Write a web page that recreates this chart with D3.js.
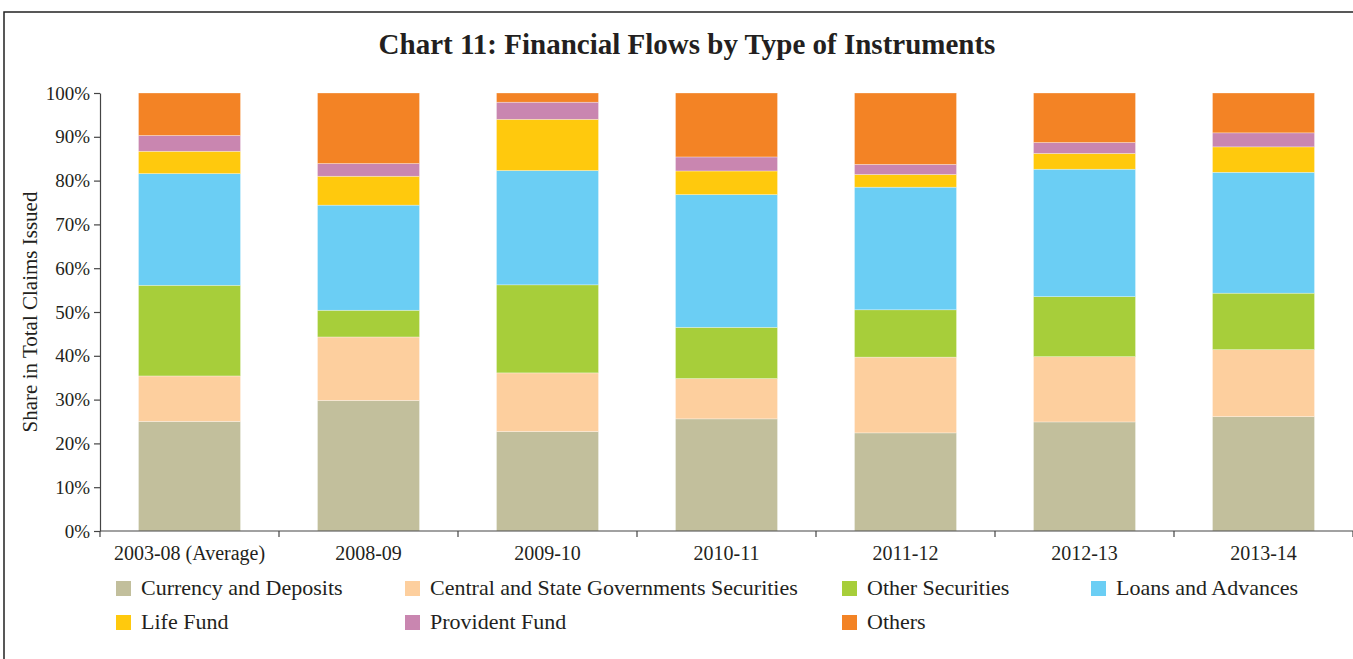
<!DOCTYPE html>
<html>
<head>
<meta charset="utf-8">
<script src="https://cdn.jsdelivr.net/npm/d3@7"></script>
<style>
  body { margin: 0; background: #fff; }
  text { font-family: "Liberation Serif", "DejaVu Serif", serif; fill: #231f20; }
</style>
</head>
<body>
<script>
"use strict";

let width = 1353;
let height = 659;

// data (per cent of total claims issued)
let years = ["2003-08 (Average)", "2008-09", "2009-10", "2010-11", "2011-12", "2012-13", "2013-14"];
let seriesNames = ["Currency and Deposits", "Central and State Governments Securities", "Other Securities",
  "Loans and Advances", "Life Fund", "Provident Fund", "Others"];
let currency   = [25.0, 29.8, 22.7, 25.6, 22.4, 24.9, 26.1];
let govtSec    = [10.4, 14.5, 13.4,  9.2, 17.3, 14.9, 15.3];
let otherSec   = [20.7,  6.1, 20.1, 11.7, 10.8, 13.7, 12.9];
let loans      = [25.5, 24.0, 26.1, 30.3, 28.0, 29.1, 27.6];
let lifeFund   = [ 5.1,  6.6, 11.7,  5.4,  2.9,  3.6,  5.8];
let provident  = [ 3.6,  2.9,  3.9,  3.2,  2.3,  2.5,  3.2];
let others     = [ 9.7, 16.1,  2.1, 14.6, 16.3, 11.3,  9.1];
let yTicks = [0, 10, 20, 30, 40, 50, 60, 70, 80, 90, 100];
let colors = ["#c2bf9c", "#fdcf9e", "#a7ce3a", "#6bcef4", "#ffc90d", "#c986b0", "#f38325"];

let allSeries = [currency, govtSec, otherSec, loans, lifeFund, provident, others];
let rows = years.map((y, i) => {
  let r = { year: y };
  seriesNames.forEach((s, j) => { r[s] = allSeries[j][i]; });
  return r;
});

let svg = d3.select("body").append("svg").attr("width", width).attr("height", height);

// frame
svg.append("path")
  .attr("d", "M4,659 L4,12 L1353,12")
  .attr("fill", "none")
  .attr("stroke", "#222")
  .attr("stroke-width", 1.5);

svg.append("text")
  .attr("x", 687)
  .attr("y", 54)
  .attr("text-anchor", "middle")
  .style("font-size", "29px")
  .style("font-weight", "bold")
  .text("Chart 11: Financial Flows by Type of Instruments");

let x = d3.scaleBand()
  .domain(years)
  .range([100, 1353])
  .paddingInner(0.43)
  .paddingOuter(0.215);

let y = d3.scaleLinear()
  .domain([0, 100])
  .range([531, 93]);

let stack = d3.stack().keys(seriesNames);
let layers = stack(rows);

let g = svg.append("g");
g.selectAll("g")
  .data(layers)
  .enter()
  .append("g")
  .attr("fill", (d, i) => colors[i])
  .selectAll("rect")
  .data(d => d)
  .enter()
  .append("rect")
  .attr("x", d => x(d.data.year))
  .attr("width", x.bandwidth())
  .attr("y", d => y(d[1]))
  .attr("height", d => y(d[0]) - y(d[1]))
  .attr("stroke", "#fff")
  .attr("stroke-opacity", 0.5)
  .attr("stroke-width", 0.6);

// y axis
let yAxis = svg.append("g")
  .attr("transform", "translate(100,0)")
  .call(d3.axisLeft(y).tickValues(yTicks).tickFormat(d => d + "%").tickSize(6).tickSizeOuter(0));
yAxis.select(".domain").attr("stroke", "#444").attr("stroke-width", 1.2);
yAxis.selectAll(".tick line").attr("stroke", "#444").attr("stroke-width", 1.2);
yAxis.selectAll(".tick text")
  .attr("x", -10)
  .style("font-size", "19px")
  .style("font-family", "'Liberation Serif', serif");

// x axis, ticks sit between categories
let step = x.step();
let xAxisG = svg.append("g").attr("transform", "translate(0,531)");
xAxisG.append("line")
  .attr("x1", 100).attr("x2", 1353)
  .attr("stroke", "#444").attr("stroke-width", 1.2);
xAxisG.selectAll(".sep")
  .data(d3.range(years.length + 1))
  .enter()
  .append("line")
  .attr("class", "sep")
  .attr("x1", i => 100 + i * step)
  .attr("x2", i => 100 + i * step)
  .attr("y1", 0)
  .attr("y2", 6)
  .attr("stroke", "#444")
  .attr("stroke-width", 1.2);
xAxisG.selectAll(".lbl")
  .data(years)
  .enter()
  .append("text")
  .attr("class", "lbl")
  .attr("x", d => x(d) + x.bandwidth() / 2)
  .attr("y", 29)
  .attr("text-anchor", "middle")
  .style("font-size", "20px")
  .text(d => d);

svg.append("text")
  .attr("transform", "translate(37,312) rotate(-90)")
  .attr("text-anchor", "middle")
  .style("font-size", "21px")
  .text("Share in Total Claims Issued");

// legend
let legendX = [116, 405, 842, 1091];
let legendY = [581, 615];
let legend = svg.append("g");
seriesNames.forEach((s, i) => {
  let lx = legendX[i % 4];
  let ly = legendY[Math.floor(i / 4)];
  legend.append("rect")
    .attr("x", lx).attr("y", ly)
    .attr("width", 15).attr("height", 15)
    .attr("fill", colors[i]);
  legend.append("text")
    .attr("x", lx + 25)
    .attr("y", ly + 14)
    .style("font-size", "22px")
    .text(s);
});
</script>
</body>
</html>
